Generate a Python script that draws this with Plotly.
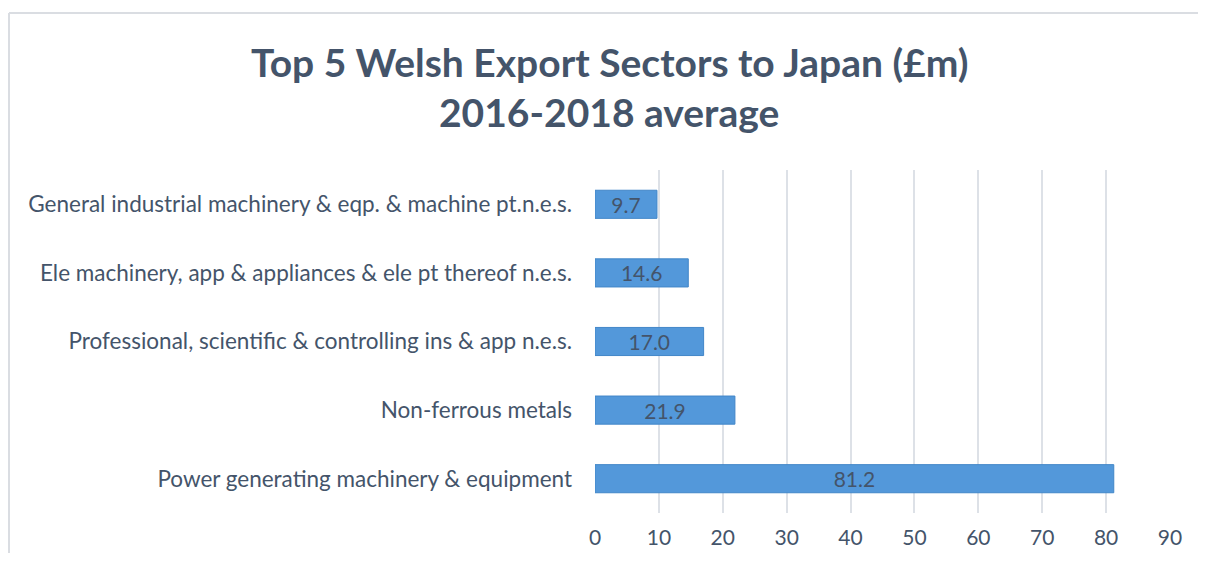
import plotly.graph_objects as go

# Sektorar, neðst til efst eins og á myndinni
sectors = [
    "Power generating machinery & equipment",
    "Non-ferrous metals",
    "Professional, scientific & controlling ins & app n.e.s.",
    "Ele machinery, app & appliances & ele pt thereof n.e.s.",
    "General industrial machinery & eqp. & machine pt.n.e.s.",
]
values = [81.2, 21.9, 17.0, 14.6, 9.7]
x_ticks = [0, 10, 20, 30, 40, 50, 60, 70, 80, 90]

title_lines = ["Top 5 Welsh Export Sectors to Japan (£m)", "2016-2018 average"]

# Stærð teiknisvæðis í pixlum (síðan hefur 8px spássíu sem er dregin frá)
W, H = 1190, 545
L, R, T, B = 587, 28, 162, 40
pw = W - L - R
ph = H - T - B


def px_x(x):
    return (x - L) / pw


def px_y(y):
    return (H - B - y) / ph


fig = go.Figure()
fig.add_trace(go.Bar(
    x=values,
    y=sectors,
    orientation="h",
    marker=dict(color="#5398DA", line=dict(color="#4286C8", width=1)),
    text=values,
    texttemplate="%{x:.1f}",
    textposition="inside",
    insidetextanchor="middle",
    constraintext="none",
    textfont=dict(family="Lato", size=21, color="#44546A"),
    hoverinfo="x+y",
))

fig.update_layout(
    width=W,
    height=H,
    margin=dict(l=L, r=R, t=T, b=B, autoexpand=False),
    paper_bgcolor="white",
    plot_bgcolor="white",
    bargap=0.59,
    showlegend=False,
    uniformtext=dict(minsize=21, mode="show"),
    xaxis=dict(
        range=[0, 90],
        tickvals=x_ticks,
        showgrid=True,
        gridcolor="#DDE1E7",
        gridwidth=2,
        zeroline=False,
        showline=False,
        tickfont=dict(family="Lato", size=21, color="#44546A"),
        ticklabelstandoff=10,
        fixedrange=True,
    ),
    yaxis=dict(
        showgrid=False,
        zeroline=False,
        showline=False,
        tickfont=dict(family="Lato", size=22.5, color="#44546A"),
        ticklabelstandoff=22,
        automargin=False,
        fixedrange=True,
    ),
)

# Titill í tveimur línum
for line, ypx in zip(title_lines, [54, 104]):
    fig.add_annotation(
        text=line, xref="paper", yref="paper",
        x=px_x(601), y=px_y(ypx), xanchor="center", yanchor="middle",
        showarrow=False,
        font=dict(family="Lato", size=39, color="#44546A", weight="bold"),
    )

# Rammi utan um grafið (efri og vinstri lína sjást á myndinni)
fig.add_shape(type="line", xref="paper", yref="paper",
              x0=px_x(1), x1=1.2, y0=px_y(5), y1=px_y(5),
              line=dict(color="#DADDE2", width=2))
fig.add_shape(type="line", xref="paper", yref="paper",
              x0=px_x(1), x1=px_x(1), y0=px_y(5), y1=-0.3,
              line=dict(color="#DADDE2", width=2))

fig.write_html("out.html")
